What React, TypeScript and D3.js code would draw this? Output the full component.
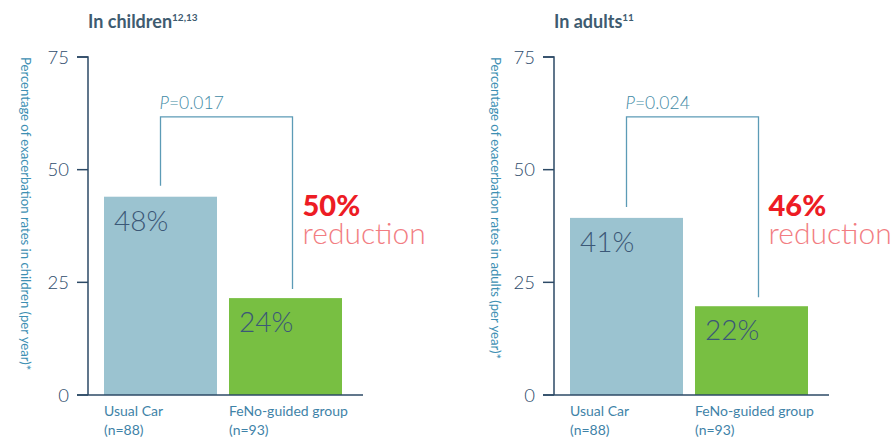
import * as d3 from "d3";

// Chart data
const categories = ["Usual Car", "FeNo-guided group"];
const sampleSizes = ["(n=88)", "(n=93)"];
const yTicks = [0, 25, 50, 75];

const childrenValues = [44, 21.5];
const childrenLabels = ["48%", "24%"];
const adultValues = [39.3, 19.7];
const adultLabels = ["41%", "22%"];

const panelTitles = ["In children", "In adults"];
const panelRefs = ["12,13", "11"];
const yTitles = [
    "Percentage of exacerbation rates in children (per year)*",
    "Percentage of exacerbation rates in adults (per year)*",
];
const pValues = ["0.017", "0.024"];
const reductions = ["50%", "46%"];
const bracketTops = [61.7, 61.7];

const WIDTH = 894;
const HEIGHT = 439;
const FONT = "Lato, 'Open Sans', sans-serif";

const y = d3.scaleLinear().domain([0, 75]).range([395, 57]);
const x = d3.scaleBand<string>().domain(categories).range([16, 254]).paddingInner(0.096).paddingOuter(0);

const Panel = ({i, x0, values, labels}: {i: number; x0: number; values: number[]; labels: string[]}) => {
    const bw = x.bandwidth();
    const c0 = x(categories[0])! + bw / 2;
    const c1 = x(categories[1])! + bw / 2 + 7; // right leg sits a bit right of the bar centre
    const top = y(bracketTops[i]);
    const bracket = d3.path();
    bracket.moveTo(c0, y(values[0]) - 11);
    bracket.lineTo(c0, top);
    bracket.lineTo(c1, top);
    bracket.lineTo(c1, y(values[1]) - 9);
    const colors = ["#9bc3d0", "#78bf42"];

    return (
        <g transform={`translate(${x0},0)`} fontFamily={FONT}>
            <text x={0} y={28} fontSize={18} fontWeight={700} fill="#3e5b70">
                {panelTitles[i]}
                <tspan fontSize={10} dy={-7}>{panelRefs[i]}</tspan>
            </text>

            <text transform={`translate(${i === 0 ? -67 : -63},57) rotate(90)`} fontSize={13.1} fill="#3d8fb3">
                {yTitles[i]}
            </text>

            {/* y axis */}
            <path d={`M-11,${y(75)}H0V${y(0)}`} fill="none" stroke="#2d4a66" strokeWidth={1.5}/>
            {yTicks.map(t => (
                <g key={t}>
                    <line x1={-11} x2={0} y1={y(t)} y2={y(t)} stroke="#2d4a66" strokeWidth={1.5}/>
                    <text x={-19} y={y(t)} dy="0.36em" textAnchor="end" fontSize={18.5} fontWeight={300} fill="#2e4b6b">{t}</text>
                </g>
            ))}

            {/* bars */}
            {categories.map((c, j) => (
                <g key={c}>
                    <rect x={x(c)} y={y(values[j])} width={bw} height={y(0) - y(values[j])} fill={colors[j]}/>
                    <text x={x(c)! + 10} y={y(values[j]) + 34} fontSize={28} fontWeight={300} fill="#3b5877">{labels[j]}</text>
                    <text x={x(c)} y={416} fontSize={14} fill="#3f83a8">{c}</text>
                    <text x={x(c)} y={435} fontSize={14} fill="#3f83a8">{sampleSizes[j]}</text>
                </g>
            ))}
            <line x1={-11} x2={275} y1={y(0)} y2={y(0)} stroke="#2d4a66" strokeWidth={1.5}/>

            {/* significance bracket */}
            <path d={bracket.toString()} fill="none" stroke="#5c9bb6" strokeWidth={1.3}/>
            <text x={c0 - 1} y={top - 8} fontSize={17.5} fontWeight={300} fill="#3f8aa5">
                <tspan fontStyle="italic">P</tspan>={pValues[i]}
            </text>
            <text x={c1 + 10} y={216}>
                <tspan fontSize={29} fontWeight={900} fill="#ed1c24">{reductions[i]}</tspan>
                <tspan x={c1 + 10} dy={28} fontSize={30} fontWeight={300} fill="#f27d82">reduction</tspan>
            </text>
        </g>
    );
};

export default function App() {
    return (
        <svg width={WIDTH} height={HEIGHT} style={{display: "block", position: "absolute", left: 0, top: 0}}>
            <rect width={WIDTH} height={HEIGHT} fill="#fff"/>
            <Panel i={0} x0={88} values={childrenValues} labels={childrenLabels}/>
            <Panel i={1} x0={554} values={adultValues} labels={adultLabels}/>
        </svg>
    );
}
